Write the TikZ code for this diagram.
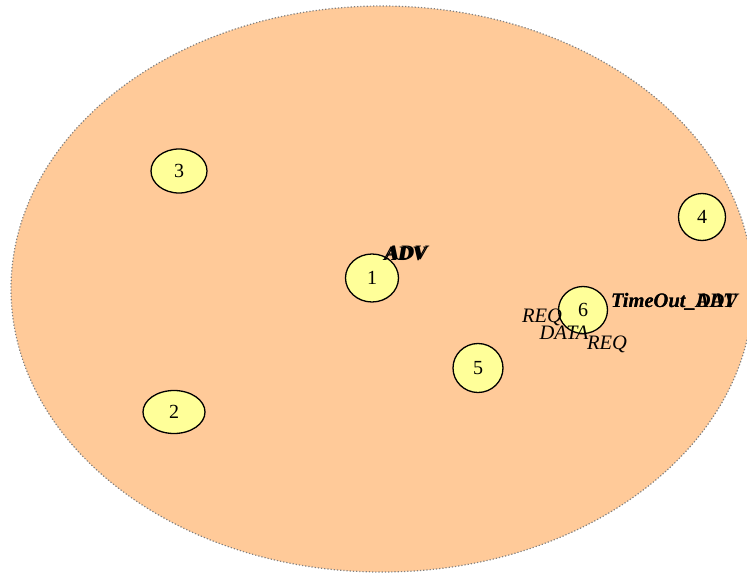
\documentclass[tikz,border=0pt]{standalone}
\usepackage{fontspec}
\setmainfont{Liberation Serif}
\usetikzlibrary{shapes.geometric}
\definecolor{zonefill}{HTML}{FFCA99}
\definecolor{zoneline}{HTML}{808080}
\definecolor{nodefill}{HTML}{FFFF99}
\tikzset{
  zone/.style={fill=zonefill, draw=zoneline, line width=1.2pt, dotted},
  station/.style={ellipse, draw=black, line width=1.3pt, fill=nodefill,
    inner sep=0pt, font=\fontsize{20}{20}\selectfont},
  msg/.style={inner sep=0pt, font=\fontsize{20.5}{20}\selectfont\itshape},
  timer/.style={inner sep=0pt, font=\fontsize{20.5}{20}\selectfont\bfseries\itshape},
}
\begin{document}
\begin{tikzpicture}[x=1pt, y=-1pt]
\useasboundingbox (0,0) rectangle (747,575);
\clip (0,0) rectangle (747,575);
% coverage area of the network
\draw[zone] (382,289) ellipse [x radius=371, y radius=283];
% stations
\node[station, minimum width=56pt, minimum height=44pt] (n3) at (179,171) {3};
\node[station, minimum width=47pt, minimum height=47pt] (n4) at (702,217) {4};
\node[station, minimum width=53pt, minimum height=48pt] (n1) at (372,278) {1};
\node[station, minimum width=49pt, minimum height=47pt] (n6) at (583,310) {6};
\node[station, minimum width=50pt, minimum height=49pt] (n5) at (478,368) {5};
\node[station, minimum width=62pt, minimum height=43pt] (n2) at (174,412) {2};
% messages and timers
\node[timer] (adv1) at (405,254) {ADV};
\node[timer] (adv2) at (407,253) {ADV};
\node[timer, anchor=west] (toadv) at (611,302) {TimeOut\_ADV};
\node[timer, anchor=west] (todat) at (611,302) {TimeOut\_DAT};
\node[msg] (req1) at (542,317) {REQ};
\node[msg] (data) at (564,333) {DATA};
\node[msg] (req2) at (607,344) {REQ};
\end{tikzpicture}
\end{document}
